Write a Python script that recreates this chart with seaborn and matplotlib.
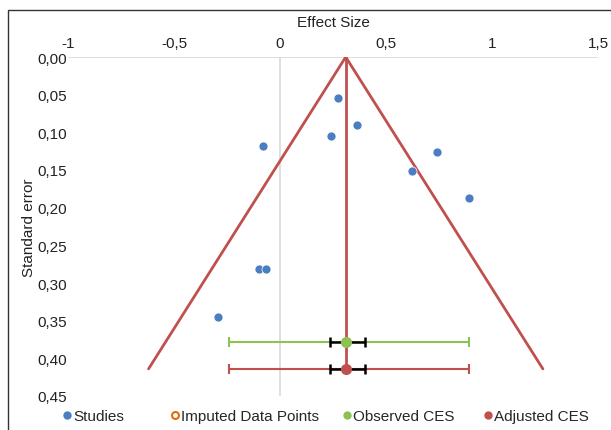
import matplotlib
matplotlib.use("Agg")
import matplotlib.pyplot as plt
from matplotlib.lines import Line2D
from matplotlib.patches import Rectangle
import seaborn as sns
import pandas as pd

# studies (effect size, standard error)
study_es = [0.274, 0.363, 0.241, -0.080, 0.741, 0.623, 0.892, -0.098, -0.068, -0.292]
study_se = [0.054, 0.090, 0.105, 0.118, 0.126, 0.151, 0.187, 0.281, 0.281, 0.345]

# funnel and combined effect sizes
funnel_es = [-0.62, 0.31, 1.24]
funnel_se = [0.414, 0.0, 0.414]
ces_labels = ["Observed CES", "Adjusted CES"]
ces_es = [0.31, 0.31]
ces_se = [0.378, 0.414]
ces_pi_lo = [-0.24, -0.24]
ces_pi_hi = [0.89, 0.89]
ces_ci_lo = [0.236, 0.236]
ces_ci_hi = [0.401, 0.401]

x_ticks = [-1, -0.5, 0, 0.5, 1, 1.5]
x_labels = ["-1", "-0,5", "0", "0,5", "1", "1,5"]
y_ticks = [0.0, 0.05, 0.10, 0.15, 0.20, 0.25, 0.30, 0.35, 0.40, 0.45]
y_labels = ["0,00", "0,05", "0,10", "0,15", "0,20", "0,25", "0,30", "0,35", "0,40", "0,45"]

blue = "#4A7EC0"
red = "#C0504D"
green = "#8DC152"
orange = "#E46C0A"

sns.set_style("white")
plt.rcParams["font.family"] = ["Liberation Sans", "DejaVu Sans"]

fig = plt.figure(figsize=(6.11, 4.31), dpi=100)
ax = fig.add_axes([68 / 611, 1 - 397 / 431, 530 / 611, 339 / 431])

fig.patches.append(Rectangle((8 / 611, -0.1), 1.2, 1 - 11 / 431 + 0.1,
                             transform=fig.transFigure, fill=False,
                             edgecolor="#333333", linewidth=1.0))

ax.axhline(0, color="#D9D9D9", lw=1.2, zorder=0)
ax.axvline(0, color="#D9D9D9", lw=1.2, zorder=0)

funnel = pd.DataFrame({"es": funnel_es, "se": funnel_se})
sns.lineplot(data=funnel, x="es", y="se", sort=False, color=red, lw=2, ax=ax)
ax.plot([ces_es[1], ces_es[1]], [0, ces_se[1]], color=red, lw=2)

ces_colors = [green, red]
for i in range(2):
    ax.errorbar(ces_es[i], ces_se[i],
                xerr=[[ces_es[i] - ces_pi_lo[i]], [ces_pi_hi[i] - ces_es[i]]],
                fmt="none", ecolor=ces_colors[i], elinewidth=1.5, capsize=3.5, capthick=1.5)
    ax.errorbar(ces_es[i], ces_se[i],
                xerr=[[ces_es[i] - ces_ci_lo[i]], [ces_ci_hi[i] - ces_es[i]]],
                fmt="none", ecolor="black", elinewidth=1.8, capsize=3.5, capthick=1.8)
    ax.plot(ces_es[i], ces_se[i], "o", color=ces_colors[i], ms=7, zorder=5)

studies = pd.DataFrame({"es": study_es, "se": study_se})
sns.scatterplot(data=studies, x="es", y="se", color=blue, s=42,
                edgecolor="white", linewidth=0.5, ax=ax, zorder=6)

ax.set_xlim(-1, 1.5)
ax.set_ylim(0.45, 0.0)
ax.xaxis.tick_top()
ax.xaxis.set_label_position("top")
ax.set_xticks(x_ticks)
ax.set_xticklabels(x_labels)
ax.set_yticks(y_ticks)
ax.set_yticklabels(y_labels)
ax.tick_params(axis="both", length=0, labelsize=11, colors="#222222")
ax.tick_params(axis="x", pad=5)
ax.tick_params(axis="y", pad=1)
ax.set_xlabel("Effect Size", fontsize=11, labelpad=7, color="#222222")
ax.set_ylabel("Standard error", fontsize=11, labelpad=1, color="#222222")
for s in ax.spines.values():
    s.set_visible(False)

handles = [
    Line2D([], [], ls="", marker="o", ms=5, color=blue),
    Line2D([], [], ls="", marker="o", ms=5, mfc="white", mec=orange, mew=1.5),
    Line2D([], [], ls="", marker="o", ms=5, color=green),
    Line2D([], [], ls="", marker="o", ms=5, color=red),
]
legend_labels = ["Studies", "Imputed Data Points"] + ces_labels
marker_px = [67, 175, 347, 488]
for h, lab, mx in zip(handles, legend_labels, marker_px):
    fig.legend([h], [lab], loc="center left",
               bbox_to_anchor=((mx - 4.6) / 611, 1 - 417 / 431),
               frameon=False, fontsize=11, handletextpad=0.1,
               handlelength=0.6, borderpad=0, borderaxespad=0)

fig.savefig("out.png", dpi=100)
